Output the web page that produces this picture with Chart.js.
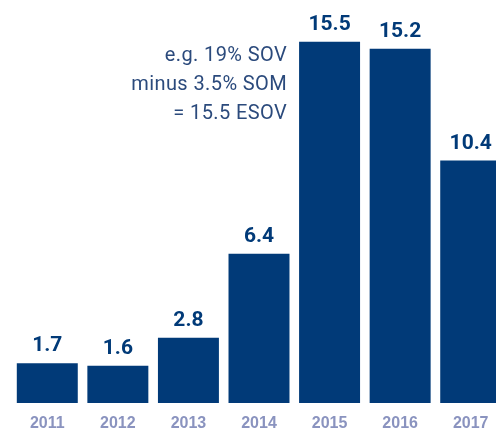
<!DOCTYPE html>
<html>
<head>
<meta charset="utf-8">
<script src="https://cdn.jsdelivr.net/npm/chart.js@4/dist/chart.umd.min.js"></script>
<style>
  html, body { margin: 0; padding: 0; background: #fff; overflow: hidden; }
  #wrap { width: 510px; height: 428px; }
</style>
</head>
<body>
<div id="wrap"><canvas id="esov"></canvas></div>
<script>
const years = ['2011', '2012', '2013', '2014', '2015', '2016', '2017'];
const esov_values = [1.7, 1.6, 2.8, 6.4, 15.5, 15.2, 10.4];
const note_lines = ['e.g. 19% SOV', 'minus 3.5% SOM', '= 15.5 ESOV'];

const bar_color = '#013a78';
const year_color = '#8a93bf';
const note_color = '#2b4a7c';

// value above each bar
const value_labels = {
    id: 'value_labels',
    afterDatasetsDraw(chart) {
        const ctx = chart.ctx;
        const meta = chart.getDatasetMeta(0);
        ctx.save();
        ctx.font = 'bold 21px Roboto';
        ctx.fillStyle = bar_color;
        ctx.textAlign = 'center';
        ctx.textBaseline = 'alphabetic';
        meta.data.forEach((bar, i) => {
            ctx.fillText(esov_values[i].toFixed(1), bar.x, bar.y - 12);
        });
        ctx.restore();
    }
};

// explanatory note beside the 2015 bar
const note = {
    id: 'note',
    afterDraw(chart) {
        const ctx = chart.ctx;
        const bar = chart.getDatasetMeta(0).data[4];
        ctx.save();
        ctx.font = '20px Roboto';
        ctx.letterSpacing = '0.4px';
        ctx.fillStyle = note_color;
        ctx.textAlign = 'right';
        ctx.textBaseline = 'alphabetic';
        const x = bar.x - bar.width / 2 - 12;
        note_lines.forEach((line, i) => {
            ctx.fillText(line, x, 61 + i * 29);
        });
        ctx.restore();
    }
};

new Chart(document.getElementById('esov'), {
    type: 'bar',
    data: {
        labels: years,
        datasets: [{
            data: esov_values,
            backgroundColor: bar_color,
            borderWidth: 0,
            barPercentage: 0.864,
            categoryPercentage: 1.0
        }]
    },
    options: {
        responsive: true,
        maintainAspectRatio: false,
        animation: false,
        layout: {
            padding: { top: 30, left: 12, right: 4, bottom: 0 }
        },
        plugins: {
            legend: { display: false },
            tooltip: { enabled: false }
        },
        scales: {
            x: {
                grid: { display: false, drawTicks: false },
                border: { display: false },
                ticks: {
                    color: year_color,
                    padding: 11,
                    font: { family: 'Liberation Sans', size: 16, weight: 'bold' }
                },
                afterFit(scale) {
                    scale.height = 25;
                }
            },
            y: {
                display: false,
                min: 0,
                max: 16
            }
        }
    },
    plugins: [value_labels, note]
});
</script>
</body>
</html>
